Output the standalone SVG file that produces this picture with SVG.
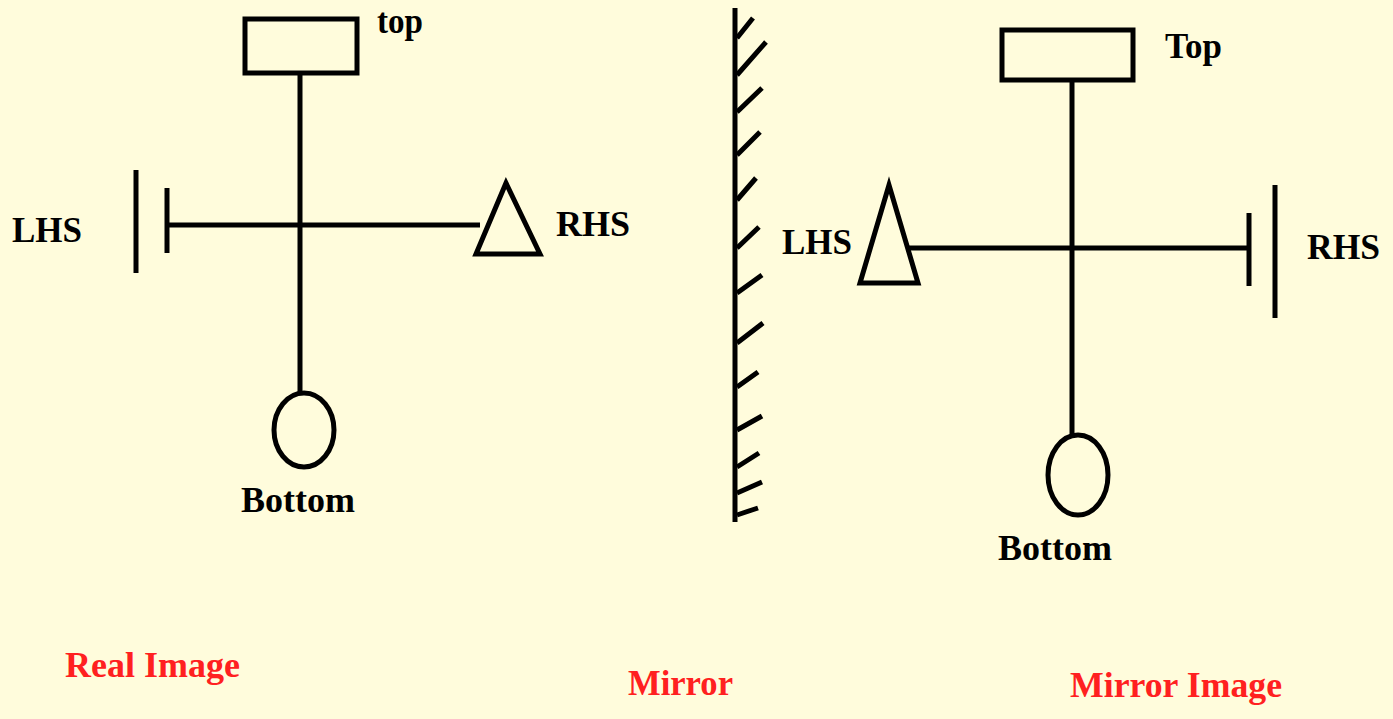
<svg xmlns="http://www.w3.org/2000/svg" width="1393" height="719" viewBox="0 0 1393 719">
<style>
.s{fill:none;stroke:#000;stroke-width:5}
.t{font-family:"Liberation Serif",serif;font-weight:bold;font-size:36px;fill:#000}
.r{font-family:"Liberation Serif",serif;font-weight:bold;font-size:36px;fill:#ff2020}
</style>
<rect width="1393" height="719" fill="#fffcdc"/>
<g id="mirror">
<line class="s" x1="735" y1="8" x2="735" y2="522" stroke-width="6"/>
<path class="s" d="M737 38 L753 18 M737 75 L766 42 M737 112 L762 88 M737 155 L760 132 M737 200 L756 178 M737 248 L759 227 M737 293 L762 275 M737 343 L763 323 M737 387 L758 372 M737 430 L762 416 M737 467 L759 453 M737 493 L762 482 M737 515 L758 508" stroke-width="4.5"/>
</g>
<g id="real">
<rect class="s" x="245" y="19" width="112" height="54"/>
<line class="s" x1="300" y1="73" x2="300" y2="392"/>
<ellipse class="s" cx="304" cy="430" rx="30" ry="37"/>
<line class="s" x1="167" y1="225" x2="480" y2="225"/>
<line class="s" x1="167" y1="188" x2="167" y2="253"/>
<line class="s" x1="136" y1="170" x2="136" y2="273"/>
<polygon class="s" points="506,183 476,254 540,254"/>
</g>
<g id="mirrorimage">
<rect class="s" x="1002" y="30" width="131" height="50"/>
<line class="s" x1="1072" y1="80" x2="1072" y2="436"/>
<ellipse class="s" cx="1078" cy="475" rx="30" ry="40"/>
<line class="s" x1="908" y1="248" x2="1249" y2="248"/>
<line class="s" x1="1249" y1="213" x2="1249" y2="286"/>
<line class="s" x1="1275" y1="185" x2="1275" y2="318"/>
<polygon class="s" points="889,185 860,283 918,283"/>
</g>
<g id="labels">
<text class="t" x="377" y="33" textLength="46" lengthAdjust="spacingAndGlyphs">top</text>
<text class="t" x="12" y="242" textLength="70" lengthAdjust="spacingAndGlyphs">LHS</text>
<text class="t" x="556" y="236" textLength="74" lengthAdjust="spacingAndGlyphs">RHS</text>
<text class="t" x="241" y="512" textLength="114" lengthAdjust="spacingAndGlyphs">Bottom</text>
<text class="t" x="1165" y="58" textLength="57" lengthAdjust="spacingAndGlyphs">Top</text>
<text class="t" x="782" y="254" textLength="70" lengthAdjust="spacingAndGlyphs">LHS</text>
<text class="t" x="1307" y="259" textLength="73" lengthAdjust="spacingAndGlyphs">RHS</text>
<text class="t" x="998" y="560" textLength="114" lengthAdjust="spacingAndGlyphs">Bottom</text>
<text class="r" x="65" y="677" textLength="175" lengthAdjust="spacingAndGlyphs">Real Image</text>
<text class="r" x="628" y="695" textLength="105" lengthAdjust="spacingAndGlyphs">Mirror</text>
<text class="r" x="1070" y="697" textLength="212" lengthAdjust="spacingAndGlyphs">Mirror Image</text>
</g>
</svg>
